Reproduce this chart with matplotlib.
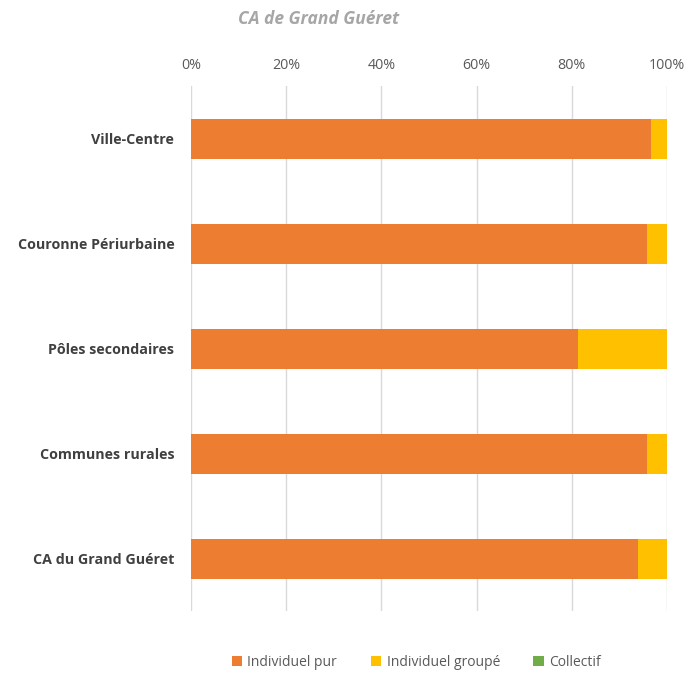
import matplotlib.pyplot as plt
from matplotlib.ticker import PercentFormatter

categories = ["Ville-Centre", "Couronne Périurbaine", "Pôles secondaires",
              "Communes rurales", "CA du Grand Guéret"]
individuel_pur = [96.6, 95.9, 81.2, 95.9, 93.8]
individuel_groupe = [3.4, 4.1, 18.8, 4.1, 6.2]
collectif = [0.0, 0.0, 0.0, 0.0, 0.0]

series = [
    ("Individuel pur", individuel_pur, "#ED7D31"),
    ("Individuel groupé", individuel_groupe, "#FFC000"),
    ("Collectif", collectif, "#70AD47"),
]

plt.rcParams["font.family"] = ["Open Sans", "DejaVu Sans"]

fig = plt.figure(figsize=(6.88, 6.73), dpi=100)
ax = fig.add_axes([0.2776, 0.0914, 0.6919, 0.7801])

pos = list(range(len(categories)))
left = [0.0] * len(categories)
for nom, vals, coul in series:
    ax.barh(pos, vals, left=left, height=0.38, color=coul, label=nom, zorder=3)
    left = [a + b for a, b in zip(left, vals)]

ax.set_xlim(0, 100)
ax.set_ylim(len(categories) - 0.5, -0.5)
ax.set_yticks(pos)
ax.set_yticklabels(categories, fontsize=10.3, fontweight="bold", color="#404040")
ax.set_xticks(range(0, 101, 20))
ax.xaxis.set_major_formatter(PercentFormatter(decimals=0))
ax.xaxis.tick_top()
ax.tick_params(axis="x", length=0, labelsize=10.3, labelcolor="#595959", pad=10)
ax.tick_params(axis="y", length=0, pad=12)
ax.grid(axis="x", color="#d9d9d9", linewidth=1, zorder=0)
for s in ax.spines.values():
    s.set_visible(False)

fig.text(0.4625, 0.972, "CA de Grand Guéret", ha="center", va="center",
         fontsize=12.5, fontstyle="italic", fontweight="bold", color="#a6a6a6")

fig.legend(loc="center", bbox_to_anchor=(0.605, 0.016), ncol=3, frameon=False,
           fontsize=10, handlelength=0.75, handleheight=0.75, handletextpad=0.4,
           columnspacing=2.4, labelcolor="#595959")

fig.savefig("out.png", dpi=100)
